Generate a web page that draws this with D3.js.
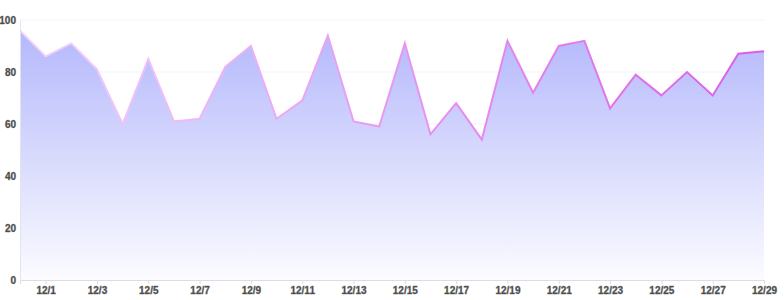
<!DOCTYPE html>
<html>
<head>
<meta charset="utf-8">
<script src="https://cdn.jsdelivr.net/npm/d3@7"></script>
<style>
  body { margin: 0; background: #fff; }
  .axis text { font-family: "Liberation Sans", Arial, sans-serif; font-size: 10px; font-weight: bold; fill: #3a3a3a; stroke: #777; stroke-width: 0.4px; }
</style>
</head>
<body>
<div class="chart"></div>
<script>
var days = ["11/30", "12/1", "12/2", "12/3", "12/4", "12/5", "12/6", "12/7", "12/8", "12/9",
  "12/10", "12/11", "12/12", "12/13", "12/14", "12/15", "12/16", "12/17", "12/18", "12/19",
  "12/20", "12/21", "12/22", "12/23", "12/24", "12/25", "12/26", "12/27", "12/28", "12/29"];
var values = [96, 86, 91, 81, 60, 85, 61, 62, 82, 90,
  62, 69, 94, 61, 59, 91, 56, 68, 54, 92,
  72, 90, 92, 66, 79, 71, 80, 71, 87, 88];
var xTicks = ["12/1", "12/3", "12/5", "12/7", "12/9", "12/11", "12/13", "12/15", "12/17",
  "12/19", "12/21", "12/23", "12/25", "12/27", "12/29"];
var yTicks = [0, 20, 40, 60, 80, 100];

var svgWidth = 784;
var svgHeight = 300;
var margin = { top: 20, right: 20, bottom: 20, left: 20 };
var width = svgWidth - margin.left - margin.right;
var height = svgHeight - margin.top - margin.bottom;

var svg = d3.select(".chart")
  .append("svg")
  .attr("width", svgWidth)
  .attr("height", svgHeight);

var defs = svg.append("defs");

var fillGrad = defs.append("linearGradient")
  .attr("id", "areaFill")
  .attr("x1", 0).attr("y1", 0).attr("x2", 0).attr("y2", 1);
fillGrad.append("stop").attr("offset", "0%").attr("stop-color", "#b4b8fb");
fillGrad.append("stop").attr("offset", "100%").attr("stop-color", "#fbfbff");

var lineGrad = defs.append("linearGradient")
  .attr("id", "lineStroke")
  .attr("x1", 0).attr("y1", 0).attr("x2", 1).attr("y2", 0);
lineGrad.append("stop").attr("offset", "0%").attr("stop-color", "#f3d4fb");
lineGrad.append("stop").attr("offset", "100%").attr("stop-color", "#dc5ce6");

var chart = svg.append("g")
  .attr("transform", "translate(" + margin.left + "," + margin.top + ")");

var x = d3.scalePoint()
  .domain(days)
  .range([0, width]);

var y = d3.scaleLinear()
  .domain([0, 100])
  .range([height, 0]);

// grid
chart.append("g")
  .selectAll("line")
  .data(yTicks.slice(1))
  .enter().append("line")
    .attr("x1", 0)
    .attr("x2", width)
    .attr("y1", function(d) { return y(d); })
    .attr("y2", function(d) { return y(d); })
    .attr("stroke", "#f3f3f8")
    .attr("stroke-width", 1);

var area = d3.area()
  .x(function(d, i) { return x(days[i]); })
  .y0(height)
  .y1(function(d) { return y(d); });

var line = d3.line()
  .x(function(d, i) { return x(days[i]); })
  .y(function(d) { return y(d); });

chart.append("path")
  .datum(values)
  .attr("d", area)
  .attr("fill", "url(#areaFill)");

chart.append("path")
  .datum(values)
  .attr("d", line)
  .attr("fill", "none")
  .attr("stroke", "url(#lineStroke)")
  .attr("stroke-width", 2)
  .attr("stroke-linejoin", "miter");

var bottomAxis = d3.axisBottom(x)
  .tickValues(xTicks)
  .tickSize(4)
  .tickPadding(3);

var leftAxis = d3.axisLeft(y)
  .tickValues(yTicks)
  .tickSize(0)
  .tickPadding(4);

var gx = chart.append("g")
  .attr("class", "axis")
  .attr("transform", "translate(0," + height + ")")
  .call(bottomAxis);
gx.select(".domain").attr("stroke", "#dcdce6");
gx.selectAll(".tick line").attr("stroke", "#dcdce6");

var gy = chart.append("g")
  .attr("class", "axis")
  .call(leftAxis);
gy.select(".domain").attr("stroke", "#e2e2f0");
</script>
</body>
</html>
